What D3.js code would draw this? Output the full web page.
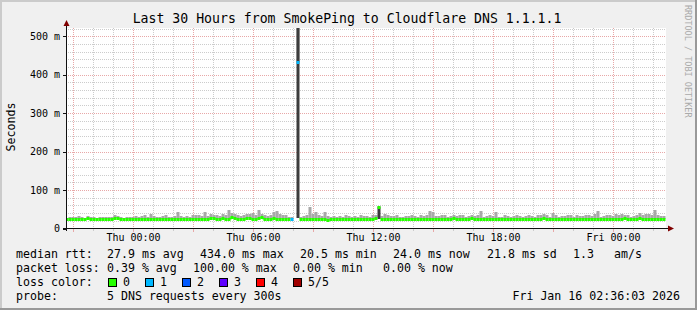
<!DOCTYPE html>
<html>
<head>
<meta charset="utf-8">
<script src="https://cdn.jsdelivr.net/npm/d3@7"></script>
<style>
body { margin: 0; background: #f0f0f0; }
svg { display: block; }
text { font-family: "DejaVu Sans Mono", monospace; fill: #000; }
</style>
</head>
<body>
<div id="chart"></div>
<script>
// median rtt per 9 minute step (ms), null = no answer
var median = [
  24,25,24,25,26,25,24,28,26,25,24,25,24,26,25,25,28,27,25,24,
  25,24,25,26,24,25,25,24,25,26,25,24,26,25,24,25,26,25,25,24,
  25,26,25,24,26,25,24,25,27,28,26,25,27,26,25,29,27,26,25,26,
  28,27,26,26,27,29,26,25,26,27,26,25,26,25,25,25,null,434,24,25,
  24,25,26,25,24,24,25,23,24,25,24,25,24,25,26,24,25,24,26,25,
  25,24,26,27,57,25,26,25,24,25,26,25,24,24,25,26,25,24,25,26,
  25,26,25,24,25,26,25,24,25,27,25,26,25,24,26,27,25,26,25,24,
  25,26,25,24,25,24,26,25,24,25,26,25,24,25,26,25,24,25,26,27,
  25,24,26,25,24,25,24,26,25,24,26,25,24,25,26,25,26,25,24,25,
  26,25,24,26,25,26,27,25,24,25,26,27,25,26,25,24,26,25,24,24
];
// slowest ping per step (ms)
var pingMax = [
  28,29,31,30,32,29,28,33,30,29,28,30,29,31,30,29,34,32,30,28,
  30,29,31,33,30,32,34,31,39,33,31,30,32,35,30,31,33,44,32,30,
  33,31,36,34,35,32,44,33,38,36,34,33,37,35,47,40,38,36,33,35,
  38,37,40,36,47,39,35,33,36,42,45,37,36,35,31,30,null,530,31,33,
  36,55,38,44,35,32,42,33,31,33,31,32,30,34,33,31,33,30,35,32,
  33,30,34,35,58,33,37,34,32,33,35,31,30,32,33,34,33,31,36,33,
  34,45,44,32,33,35,34,31,33,36,32,35,34,31,33,36,33,35,45,31,
  33,35,33,42,31,30,34,33,31,33,35,32,31,33,35,33,31,34,36,38,
  35,31,40,34,31,33,32,36,34,31,35,33,32,34,36,33,37,45,31,33,
  35,36,32,37,34,38,36,34,31,33,35,40,36,38,37,36,47,35,33,32
];
// steps with lost pings
var lossAt = [75, 76, 77];
var lossN = [1, 5, 1];
// steps with dense smoke (wide spread of pings)
var denseAt = [77, 104];
var denseLo = [28, 24];
var denseHi = [530, 57];

var yTicks = [0, 100, 200, 300, 400, 500];
var lossLabels = ["0", "1", "2", "3", "4", "5/5"];
var lossColors = ["#26ff00", "#00b8ff", "#0059ff", "#5e00ff", "#ff0000", "#a00000"];

var statRows = [
  [["median rtt:", 16], ["27.9 ms avg", 107], ["434.0 ms max", 200], ["20.5 ms min", 300],
   ["24.0 ms now", 393], ["21.8 ms sd", 487], ["1.3", 573], ["am/s", 614]],
  [["packet loss:", 16], ["0.39 % avg", 107], ["100.00 % max", 193], ["0.00 % min", 293], ["0.00 % now", 383]]
];

var W = 697, H = 310;
var tStart = new Date(2026, 0, 14, 20, 36, 3);
var tEnd = new Date(2026, 0, 16, 2, 36, 3);
var stepMs = 9 * 60 * 1000;

var svg = d3.select("#chart").append("svg")
    .attr("width", W)
    .attr("height", H);

// background and 3d border
svg.append("rect").attr("width", W).attr("height", H).attr("fill", "#f0f0f0");
svg.append("rect").attr("x", 0).attr("y", 0).attr("width", W).attr("height", 2).attr("fill", "#cbcbcb");
svg.append("rect").attr("x", 0).attr("y", 0).attr("width", 2).attr("height", H).attr("fill", "#cbcbcb");
svg.append("rect").attr("x", 0).attr("y", H - 2).attr("width", W).attr("height", 2).attr("fill", "#999");
svg.append("rect").attr("x", W - 2).attr("y", 0).attr("width", 2).attr("height", H).attr("fill", "#999");

var x = d3.scaleTime().domain([tStart, tEnd]).range([65.5, 665.5]);
var y = d3.scaleLinear().domain([0, 520]).range([228.5, 28.5]);

// canvas
svg.append("rect")
    .attr("x", 66).attr("y", 28)
    .attr("width", 600).attr("height", 200)
    .attr("fill", "#fff");

svg.append("clipPath").attr("id", "plot")
  .append("rect").attr("x", 66).attr("y", 28).attr("width", 600).attr("height", 200);

var grid = svg.append("g");

// horizontal grid: minor every 20 m, major every 100 m
d3.range(20, 521, 20).forEach(function(v) {
    var major = v % 100 === 0;
    grid.append("line")
        .attr("x1", 66).attr("x2", 666)
        .attr("y1", Math.round(y(v)) + 0.5).attr("y2", Math.round(y(v)) + 0.5)
        .attr("stroke", major ? "#e8a8a8" : "#cccccc")
        .attr("stroke-dasharray", "1,1");
});

// vertical grid: minor every hour, major every 3 hours
var hours = d3.timeHour.every(1).range(tStart, tEnd);
hours.forEach(function(t) {
    var major = t.getHours() % 3 === 0;
    var px = Math.floor(x(t)) + 0.5;
    grid.append("line")
        .attr("x1", px).attr("x2", px)
        .attr("y1", 28).attr("y2", 228)
        .attr("stroke", major ? "#e8a8a8" : "#cccccc")
        .attr("stroke-dasharray", "1,1");
    grid.append("line")
        .attr("x1", px).attr("x2", px)
        .attr("y1", 229).attr("y2", major ? 232 : 231)
        .attr("stroke", major ? "#e8a8a8" : "#cccccc");
});

var data = median.map(function(m, i) {
    var k = lossAt.indexOf(i);
    return {
        t0: new Date(+tStart + i * stepMs),
        t1: new Date(+tStart + (i + 1) * stepMs),
        med: m,
        max: pingMax[i],
        loss: k < 0 ? 0 : lossN[k]
    };
});

function py(v) { return Math.round(y(v)); }

var plot = svg.append("g").attr("clip-path", "url(#plot)");

// light smoke
plot.selectAll(".smoke")
    .data(data.filter(function(d) { return d.med !== null && d.max > d.med; }))
    .enter().append("rect")
    .attr("class", "smoke")
    .attr("x", function(d) { return x(d.t0); })
    .attr("width", function(d) { return x(d.t1) - x(d.t0); })
    .attr("y", function(d) { return py(d.max); })
    .attr("height", function(d) { return py(d.med) - py(d.max); })
    .attr("fill", "#a8a8a8");

// dense smoke
plot.selectAll(".dense")
    .data(denseAt)
    .enter().append("rect")
    .attr("class", "dense")
    .attr("x", function(i) { return x(data[i].t0); })
    .attr("width", function(i) { return x(data[i].t1) - x(data[i].t0); })
    .attr("y", function(i, k) { return py(denseHi[k]); })
    .attr("height", function(i, k) { return py(denseLo[k]) - py(denseHi[k]); })
    .attr("fill", "#3c3c3c");

// median line segments, coloured by loss
plot.selectAll(".med")
    .data(data.filter(function(d) { return d.med !== null && d.loss < 5; }))
    .enter().append("line")
    .attr("class", "med")
    .attr("x1", function(d) { return x(d.t0); })
    .attr("x2", function(d) { return x(d.t1); })
    .attr("y1", function(d) { return py(d.med) + 0.5; })
    .attr("y2", function(d) { return py(d.med) + 0.5; })
    .attr("stroke", function(d) { return lossColors[d.loss]; })
    .attr("stroke-width", 3);

// join neighbouring steps of the same colour
for (var i = 1; i < data.length; i++) {
    var a = data[i - 1], b = data[i];
    if (a.med === null || b.med === null || a.loss !== b.loss) continue;
    if (Math.abs(a.med - b.med) > 10) continue;
    plot.append("line")
        .attr("x1", x(b.t0)).attr("x2", x(b.t0))
        .attr("y1", py(a.med) + 0.5).attr("y2", py(b.med) + 0.5)
        .attr("stroke", lossColors[b.loss])
        .attr("stroke-width", 2);
}

// axes
svg.append("line").attr("x1", 66.5).attr("x2", 66.5).attr("y1", 24).attr("y2", 231)
    .attr("stroke", "#101010");
svg.append("line").attr("x1", 63).attr("x2", 670).attr("y1", 228.5).attr("y2", 228.5)
    .attr("stroke", "#101010");
svg.append("path").attr("d", "M63.5,26 L66.5,20 L69.5,26 Z").attr("fill", "#800000");
svg.append("path").attr("d", "M668,225.5 L674,228.5 L668,231.5 Z").attr("fill", "#800000");

// y tick labels and ticks
yTicks.forEach(function(v) {
    svg.append("line")
        .attr("x1", 63).attr("x2", 66)
        .attr("y1", Math.round(y(v)) + 0.5).attr("y2", Math.round(y(v)) + 0.5)
        .attr("stroke", "#101010");
    svg.append("text")
        .attr("x", 60)
        .attr("y", y(v) + 3.5)
        .attr("text-anchor", "end")
        .style("font-size", "10px")
        .text(v === 0 ? "0" : v + " m");
});

// x labels every 6 hours
var fmt = d3.timeFormat("%a %H:%M");
d3.timeHour.every(6).range(tStart, tEnd).forEach(function(t) {
    svg.append("text")
        .attr("x", Math.floor(x(t)) + 0.5)
        .attr("y", 241)
        .attr("text-anchor", "middle")
        .style("font-size", "10px")
        .text(fmt(t));
});

// title
svg.append("text")
    .attr("x", 347)
    .attr("y", 23)
    .attr("text-anchor", "middle")
    .style("font-size", "13.2px")
    .text("Last 30 Hours from SmokePing to Cloudflare DNS 1.1.1.1");

// y axis title
svg.append("text")
    .attr("transform", "translate(15,127) rotate(-90)")
    .attr("text-anchor", "middle")
    .style("font-size", "11.6px")
    .text("Seconds");

// watermark
svg.append("text")
    .attr("transform", "translate(685,5) rotate(90)")
    .style("font-size", "8.5px")
    .style("fill", "#aaa")
    .text("RRDTOOL / TOBI OETIKER");

// legend rows
var rowY = [258, 272];
statRows.forEach(function(row, r) {
    row.forEach(function(cell) {
        svg.append("text")
            .attr("x", cell[1])
            .attr("y", rowY[r])
            .style("font-size", "11.6px")
            .text(cell[0]);
    });
});

svg.append("text").attr("x", 16).attr("y", 286).style("font-size", "11.6px").text("loss color:");
lossLabels.forEach(function(lab, k) {
    var bx = 108 + k * 37;
    svg.append("rect")
        .attr("x", bx + 0.5).attr("y", 278.5)
        .attr("width", 8).attr("height", 8)
        .attr("fill", lossColors[k])
        .attr("stroke", "#000");
    svg.append("text")
        .attr("x", bx + 15)
        .attr("y", 286)
        .style("font-size", "11.6px")
        .text(lab);
});

svg.append("text").attr("x", 16).attr("y", 300).style("font-size", "11.6px").text("probe:");
svg.append("text").attr("x", 107).attr("y", 300).style("font-size", "11.6px").text("5 DNS requests every 300s");
svg.append("text").attr("x", 680).attr("y", 300).attr("text-anchor", "end")
    .style("font-size", "11.6px").text("Fri Jan 16 02:36:03 2026");
</script>
</body>
</html>
